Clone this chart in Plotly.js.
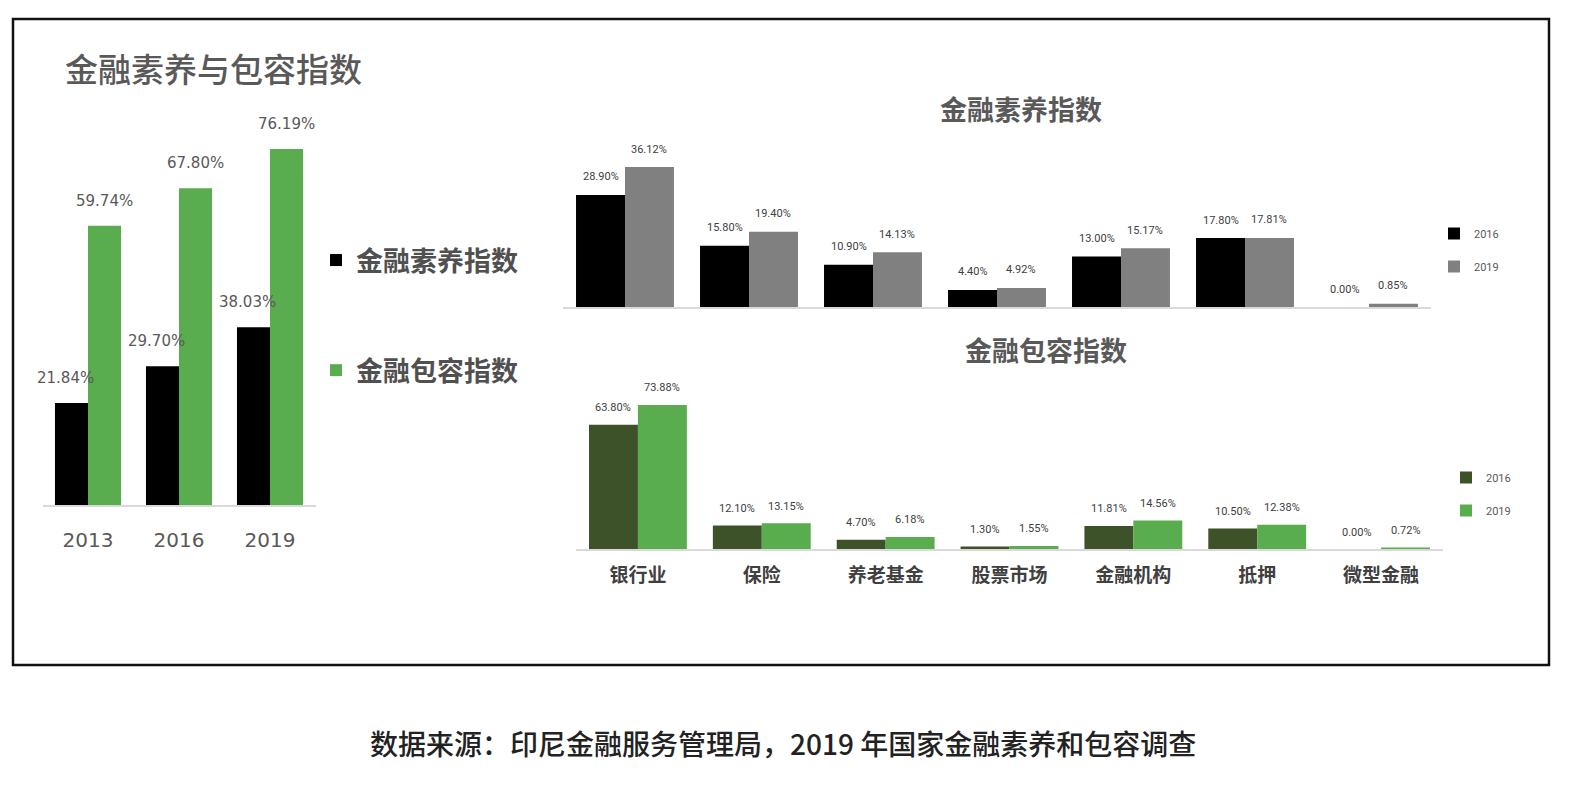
<!DOCTYPE html>
<html>
<head>
<meta charset="utf-8">
<script src="https://cdn.plot.ly/plotly-3.0.1.min.js"></script>
<style>
html,body{margin:0;padding:0;background:#fff;}
#chart{width:1574px;height:796px;}
</style>
</head>
<body>
<div id="chart"></div>
<script>
// ---- data ----
const yearCats = ['2013', '2016', '2019'];
const literacyIdx = [21.84, 29.70, 38.03];
const inclusionIdx = [59.74, 67.80, 76.19];

const sectorCats = ['银行业', '保险', '养老基金', '股票市场', '金融机构', '抵押', '微型金融'];
const literacy2016 = [28.90, 15.80, 10.90, 4.40, 13.00, 17.80, 0.00];
const literacy2019 = [36.12, 19.40, 14.13, 4.92, 15.17, 17.81, 0.85];
const inclusion2016 = [63.80, 12.10, 4.70, 1.30, 11.81, 10.50, 0.00];
const inclusion2019 = [73.88, 13.15, 6.18, 1.55, 14.56, 12.38, 0.72];

const seriesNames = ['金融素养指数', '金融包容指数'];
const yearNames = ['2016', '2019'];

const titleMain = '金融素养与包容指数';
const titleLit = '金融素养指数';
const titleInc = '金融包容指数';
const caption = '数据来源：印尼金融服务管理局，2019 年国家金融素养和包容调查';

// ---- style ----
const W = 1574, H = 796;
const px = v => v / W;
const py = v => 1 - v / H;
const CJK = '"Noto Sans CJK SC", "Noto Sans", sans-serif';
const NUM = '"DejaVu Sans", sans-serif';
const SMALL = 'Roboto, "Liberation Sans", sans-serif';
const cBlack = '#000000', cGray = '#808080', cGreen = '#5aad4f', cDark = '#3d5228';

const wL = 0.363, wR = 0.395;
const idx3 = yearCats.map((_, i) => i);
const idx7 = sectorCats.map((_, i) => i);

const traces = [
  {type: 'bar', x: idx3, y: literacyIdx, name: seriesNames[0], marker: {color: cBlack},
   width: wL, offset: -wL, xaxis: 'x', yaxis: 'y', legend: 'legend', legendgroup: 'a'},
  {type: 'bar', x: idx3, y: inclusionIdx, name: seriesNames[1], marker: {color: cGreen},
   width: wL, offset: 0, xaxis: 'x', yaxis: 'y', legend: 'legend', legendgroup: 'b'},
  {type: 'bar', x: idx7, y: literacy2016, name: yearNames[0], marker: {color: cBlack},
   width: wR, offset: -wR, xaxis: 'x2', yaxis: 'y2', legend: 'legend2', legendgroup: 'c'},
  {type: 'bar', x: idx7, y: literacy2019, name: yearNames[1], marker: {color: cGray},
   width: wR, offset: 0, xaxis: 'x2', yaxis: 'y2', legend: 'legend2', legendgroup: 'd'},
  {type: 'bar', x: idx7, y: inclusion2016, name: yearNames[0], marker: {color: cDark},
   width: wR, offset: -wR, xaxis: 'x3', yaxis: 'y3', legend: 'legend3', legendgroup: 'e'},
  {type: 'bar', x: idx7, y: inclusion2019, name: yearNames[1], marker: {color: cGreen},
   width: wR, offset: 0, xaxis: 'x3', yaxis: 'y3', legend: 'legend3', legendgroup: 'f'}
];

const fmt = v => v.toFixed(2) + '%';
const annotations = [];
// value labels
literacyIdx.forEach((v, i) => annotations.push({xref: 'x', yref: 'y', x: i - wL / 2 - 0.07, y: v,
  text: fmt(v), showarrow: false, yanchor: 'middle', yshift: 25, font: {family: NUM, size: 15, color: '#595959'}}));
inclusionIdx.forEach((v, i) => annotations.push({xref: 'x', yref: 'y', x: i + wL / 2, y: v,
  text: fmt(v), showarrow: false, yanchor: 'middle', yshift: 25, font: {family: NUM, size: 15, color: '#595959'}}));
literacy2016.forEach((v, i) => annotations.push({xref: 'x2', yref: 'y2', x: i - wR / 2, y: v,
  text: fmt(v), showarrow: false, yanchor: 'middle', yshift: 18, font: {family: SMALL, size: 11, color: '#404040'}}));
literacy2019.forEach((v, i) => annotations.push({xref: 'x2', yref: 'y2', x: i + wR / 2, y: v,
  text: fmt(v), showarrow: false, yanchor: 'middle', yshift: 18, font: {family: SMALL, size: 11, color: '#404040'}}));
inclusion2016.forEach((v, i) => annotations.push({xref: 'x3', yref: 'y3', x: i - wR / 2, y: v,
  text: fmt(v), showarrow: false, yanchor: 'middle', yshift: 17, font: {family: SMALL, size: 11, color: '#404040'}}));
inclusion2019.forEach((v, i) => annotations.push({xref: 'x3', yref: 'y3', x: i + wR / 2, y: v,
  text: fmt(v), showarrow: false, yanchor: 'middle', yshift: 17, font: {family: SMALL, size: 11, color: '#404040'}}));
// titles
annotations.push({xref: 'paper', yref: 'paper', x: px(63), y: py(68), xanchor: 'left', yanchor: 'middle',
  text: titleMain, showarrow: false, font: {family: CJK, size: 33, color: '#595959', weight: 500}});
annotations.push({xref: 'paper', yref: 'paper', x: px(1021), y: py(108), xanchor: 'center', yanchor: 'middle',
  text: titleLit, showarrow: false, font: {family: CJK, size: 27, color: '#595959', weight: 'bold'}});
annotations.push({xref: 'paper', yref: 'paper', x: px(1046), y: py(350), xanchor: 'center', yanchor: 'middle',
  text: titleInc, showarrow: false, font: {family: CJK, size: 27, color: '#595959', weight: 'bold'}});
annotations.push({xref: 'paper', yref: 'paper', x: px(783), y: py(743), xanchor: 'center', yanchor: 'middle',
  text: caption, showarrow: false, font: {family: CJK, size: 28, color: '#222222', weight: 500}});

const baseX = {type: 'linear', showgrid: false, zeroline: false, showline: true, linecolor: '#d9d9d9',
  linewidth: 1.5, ticks: 'outside', tickcolor: 'rgba(0,0,0,0)', tickmode: 'array', fixedrange: true};
const baseY = {showgrid: false, zeroline: false, showline: false, showticklabels: false, ticks: '', fixedrange: true};

const layout = {
  width: W, height: H,
  margin: {l: 0, r: 0, t: 0, b: 0},
  paper_bgcolor: '#ffffff', plot_bgcolor: 'rgba(0,0,0,0)',
  barmode: 'group',
  hovermode: false,
  xaxis: Object.assign({}, baseX, {domain: [px(42.5), px(315.5)], range: [-0.5, 2.5], anchor: 'y',
    tickvals: idx3, ticktext: yearCats, ticklen: 16, tickfont: {family: NUM, size: 20, color: '#595959'}}),
  yaxis: Object.assign({}, baseY, {domain: [py(505), py(110)], range: [0, 84.53], anchor: 'x'}),
  xaxis2: Object.assign({}, baseX, {domain: [px(563), px(1431)], range: [-0.5, 6.5], anchor: 'y2',
    tickvals: idx7, ticktext: sectorCats, showticklabels: false}),
  yaxis2: Object.assign({}, baseY, {domain: [py(307), py(140)], range: [0, 43.09], anchor: 'x2'}),
  xaxis3: Object.assign({}, baseX, {domain: [px(576), px(1443)], range: [-0.5, 6.5], anchor: 'y3',
    tickvals: idx7, ticktext: sectorCats, ticklen: 9, tickfont: {family: CJK, size: 19, color: '#404040', weight: 'bold'}}),
  yaxis3: Object.assign({}, baseY, {domain: [py(549), py(380)], range: [0, 86.7], anchor: 'x3'}),
  legend: {x: px(316), y: py(236), xanchor: 'left', yanchor: 'top', bgcolor: 'rgba(0,0,0,0)',
    traceorder: 'grouped', tracegroupgap: 72, itemwidth: 30,
    font: {family: CJK, size: 27, color: '#505050', weight: 'bold'}},
  legend2: {x: px(1434), y: py(219), xanchor: 'left', yanchor: 'top', bgcolor: 'rgba(0,0,0,0)',
    traceorder: 'grouped', tracegroupgap: 14, itemwidth: 30,
    font: {family: SMALL, size: 11, color: '#595959'}},
  legend3: {x: px(1446), y: py(463), xanchor: 'left', yanchor: 'top', bgcolor: 'rgba(0,0,0,0)',
    traceorder: 'grouped', tracegroupgap: 14, itemwidth: 30,
    font: {family: SMALL, size: 11, color: '#595959'}},
  shapes: [{type: 'rect', xref: 'paper', yref: 'paper', x0: px(13), x1: px(1549), y0: py(665), y1: py(19),
    line: {color: '#111111', width: 2.5}, fillcolor: 'rgba(0,0,0,0)'}],
  annotations: annotations
};

Plotly.newPlot('chart', traces, layout, {staticPlot: true, displayModeBar: false});
</script>
</body>
</html>
